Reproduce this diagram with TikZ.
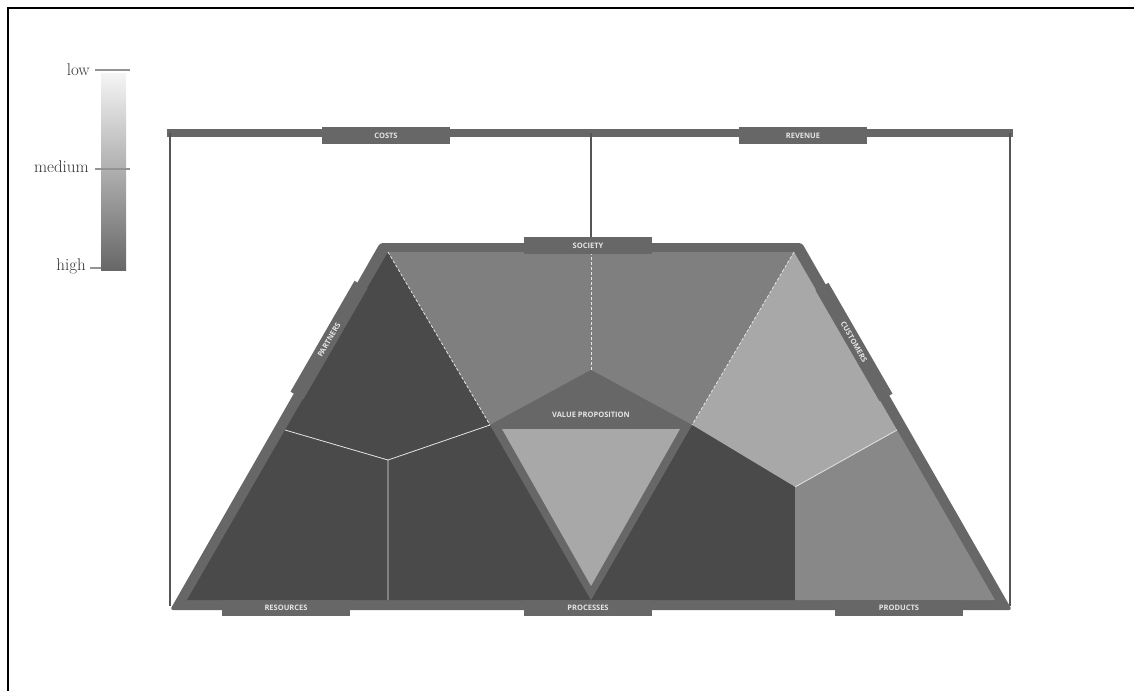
\documentclass[tikz,border=0pt]{standalone}
\usepackage{xcolor}
\usepackage{tikz}
\usepackage{fontspec}
\setsansfont{Open Sans}
\definecolor{bmframe}{HTML}{676767}
\definecolor{bmdark}{HTML}{4a4a4a}
\definecolor{bmmid}{HTML}{7f7f7f}
\definecolor{bmlight}{HTML}{a8a8a8}
\definecolor{bmprod}{HTML}{888888}
\definecolor{bmline}{HTML}{555555}
\tikzset{
  bmtag/.style={fill=bmframe, minimum width=128pt, minimum height=17pt, inner sep=0pt,
    text=white!90!black, font=\sffamily\bfseries\fontsize{7.5}{8}\selectfont},
  bmcut/.style={white!90!black, line width=0.8pt},
  bmdash/.style={white!90!black, line width=0.8pt, dash pattern=on 3pt off 2pt},
  legtick/.style={draw=gray!85, line width=1.2pt},
  legtext/.style={anchor=east, inner sep=1pt, text=black!80, font=\fontsize{17}{18}\selectfont}
}

\begin{document}
\begin{tikzpicture}[x=1pt,y=-1pt]
  \useasboundingbox (0,0) rectangle (1134,691);
  \draw[black,line width=2pt] (8,691) -- (8,8) -- (1134,8);

  % legend
  \shade[top color=white!96!black, bottom color=bmframe] (101,73) rectangle (126,270);
  \draw[legtick] (95,70) -- (130,70);
  \draw[legtick] (95,169) -- (130,169);
  \draw[legtick] (90,268) -- (101,268);
  \node[legtext] (low) at (91,70) {low};
  \node[legtext] (medium) at (90,167) {medium};
  \node[legtext] (high) at (87,266) {high};

  % frame of costs and revenue
  \draw[bmframe,line width=8pt] (167,133) -- (1013,133);
  \draw[bmline,line width=2pt] (170,133) -- (170,606);
  \draw[bmline,line width=2pt] (1010,133) -- (1010,606);
  \draw[bmline,line width=1.5pt] (591,133) -- (591,244);

  % canvas
  \coordinate (A) at (388,252);
  \coordinate (B) at (591,252);
  \coordinate (C) at (794,252);
  \coordinate (D) at (187,600);
  \coordinate (E) at (995,600);
  \coordinate (P1) at (285,430);
  \coordinate (Q1) at (388,460);
  \coordinate (R1) at (490,425);
  \coordinate (V) at (591,370);
  \coordinate (R2) at (692,425);
  \coordinate (P2) at (897,430);
  \coordinate (Q2) at (795,487);
  \coordinate (M1) at (388,600);
  \coordinate (T) at (591,600);
  \coordinate (M3) at (795,600);

  \fill[bmframe,rounded corners=3pt] (380,243) -- (802,243) -- (1012,610) -- (170,610) -- cycle;
  \fill[bmdark] (A) -- (R1) -- (Q1) -- (P1) -- cycle;
  \fill[bmdark] (P1) -- (Q1) -- (M1) -- (D) -- cycle;
  \fill[bmdark] (Q1) -- (R1) -- (T) -- (M1) -- cycle;
  \fill[bmmid] (A) -- (C) -- (R2) -- (V) -- (R1) -- cycle;
  \fill[bmlight] (C) -- (P2) -- (Q2) -- (R2) -- cycle;
  \fill[bmdark] (R2) -- (Q2) -- (M3) -- (T) -- cycle;
  \fill[bmprod] (Q2) -- (P2) -- (E) -- (M3) -- cycle;

  \draw[bmcut] (P1) -- (Q1) -- (M1);
  \draw[bmcut] (Q1) -- (R1);
  \draw[bmcut] (P2) -- (Q2);
  \draw[bmdash] (A) -- (R1);
  \draw[bmdash] (C) -- (R2);
  \draw[bmdash] (B) -- (V);

  % value proposition
  \fill[bmframe] (V) -- (R2) -- (T) -- (R1) -- cycle;
  \fill[bmlight] (502,429) -- (680,429) -- (591,586) -- cycle;
  \node[font=\sffamily\bfseries\fontsize{7.5}{8}\selectfont, text=white!90!black] (vp) at (591,415) {VALUE PROPOSITION};

  % tags
  \node[bmtag] (costs) at (386,135.5) {COSTS};
  \node[bmtag] (revenue) at (803,135.5) {REVENUE};
  \node[bmtag] (society) at (588,245.5) {SOCIETY};
  \node[bmtag,minimum height=16pt] (resources) at (286,608) {RESOURCES};
  \node[bmtag,minimum height=16pt] (processes) at (588,608) {PROCESSES};
  \node[bmtag,minimum height=16pt] (products) at (899,608) {PRODUCTS};
  \node[bmtag,minimum height=15pt,rotate=60] (partners) at (329,340) {PARTNERS};
  \node[bmtag,minimum height=15pt,rotate=-60] (customers) at (854,342) {CUSTOMERS};
\end{tikzpicture}
\end{document}
